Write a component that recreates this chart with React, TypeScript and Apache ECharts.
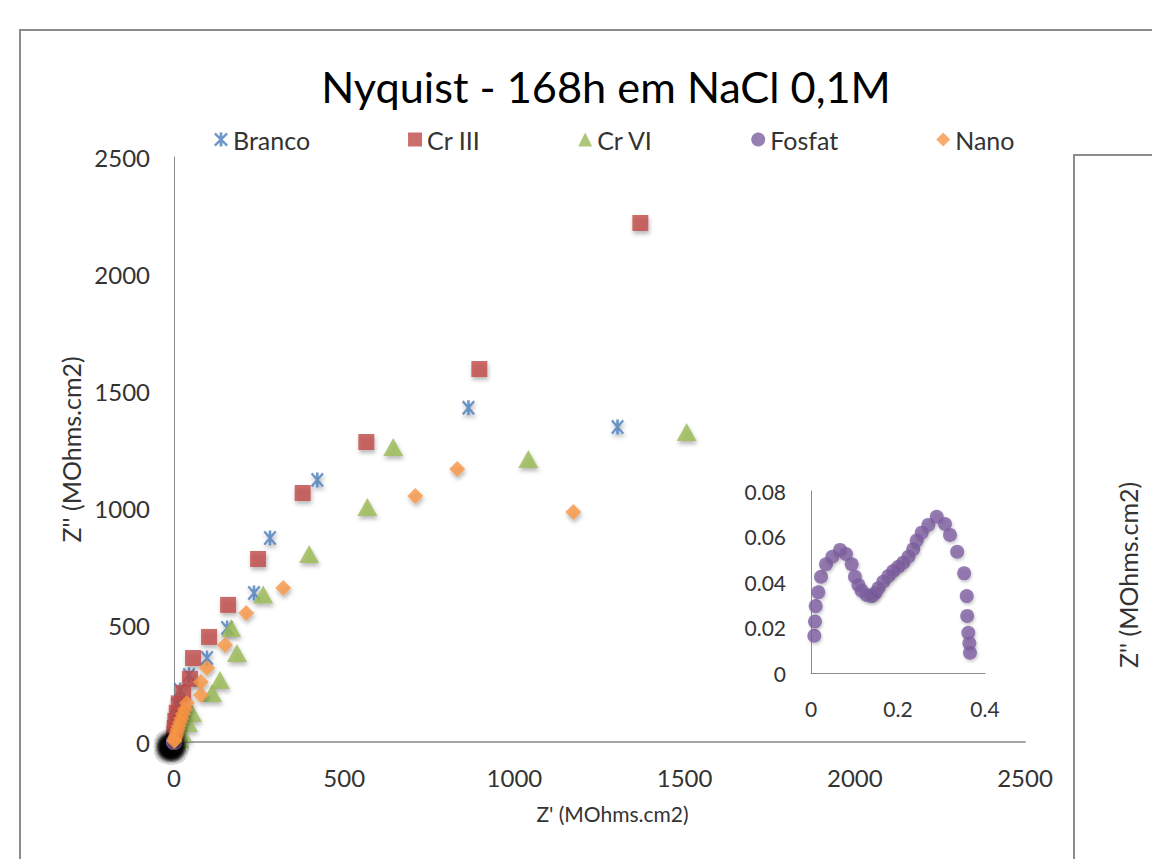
import React, { useEffect, useRef } from 'react';
import * as echarts from 'echarts';

const FONT = 'Lato, "Open Sans", sans-serif';

const seriesNames = ['Branco', 'Cr III', 'Cr VI', 'Fosfat', 'Nano'];
const seriesColors = ['#4a7ebb', '#be4b48', '#98b954', '#7d5fa0', '#f79646'];

// Main plot: Z' (x) vs Z'' (y), MOhms.cm2
const branco: [number, number][] = [
  [1303, 1346], [865, 1428], [421, 1120], [282, 872], [235, 637], [156, 487],
  [97, 359], [44, 286], [18, 222], [9, 158], [5, 103], [3, 60], [1, 26],
];
const crIII: [number, number][] = [
  [1370, 2218], [897, 1594], [565, 1282], [378, 1064], [247, 782], [159, 586],
  [103, 449], [56, 359], [47, 270], [27, 210], [14, 165], [8, 125], [4, 90],
  [2, 60], [1, 35], [0.5, 15],
];
const crVI: [number, number][] = [
  [1506, 1325], [1041, 1209], [644, 1261], [568, 1004], [397, 803], [262, 630],
  [168, 487], [185, 380], [135, 265], [112, 209], [53, 124], [41, 81], [24, 38],
  [15, 13],
];
const nano: [number, number][] = [
  [1173, 983], [832, 1167], [709, 1051], [321, 658], [212, 551], [150, 415],
  [97, 316], [79, 256], [79, 201], [38, 167], [32, 140], [26, 120], [22, 100],
  [18, 84], [14, 68], [11, 55], [8, 42], [6, 30], [4, 20], [2, 10], [1, 4],
];
// Fosfat (shown in the inset, also sits at the origin of the main plot)
const fosfat: [number, number][] = [
  [0.0076, 0.0164], [0.0092, 0.0226], [0.0108, 0.0294], [0.0168, 0.0355],
  [0.023, 0.0423], [0.0345, 0.0478], [0.049, 0.0511], [0.0667, 0.0541],
  [0.0805, 0.0523], [0.0936, 0.0478], [0.101, 0.0423], [0.109, 0.0387],
  [0.1166, 0.0362], [0.128, 0.0343], [0.1395, 0.0338], [0.147, 0.035],
  [0.155, 0.0372], [0.166, 0.0401], [0.178, 0.0426], [0.189, 0.0448],
  [0.2007, 0.0467], [0.212, 0.0485], [0.224, 0.0511], [0.235, 0.0544],
  [0.243, 0.0582], [0.2545, 0.0617], [0.2697, 0.0651], [0.289, 0.0687],
  [0.308, 0.0655], [0.3195, 0.0607], [0.336, 0.0533], [0.352, 0.0438],
  [0.358, 0.0338], [0.359, 0.0251], [0.3616, 0.0177], [0.364, 0.0131],
  [0.3655, 0.0089],
];

const mainAxis = { min: 0, max: 2500, interval: 500 };
const insetX = { min: 0, max: 0.4, interval: 0.2 };
const insetY = { min: 0, max: 0.08, interval: 0.02 };

const titleText = 'Nyquist - 168h em NaCl 0,1M';
const xName = "Z' (MOhms.cm2)";
const yName = "Z'' (MOhms.cm2)";

const ASTERISK =
  'path://M4 0L6 0L6 10L4 10Z M0 1.2L1.2 0L10 8.8L8.8 10Z M8.8 0L10 1.2L1.2 10L0 8.8Z';

const shadow = {
  shadowBlur: 4,
  shadowColor: 'rgba(0,0,0,0.35)',
  shadowOffsetX: 1,
  shadowOffsetY: 3,
};

const plain = (v: number) => String(v);

export default function App() {
  const ref = useRef<HTMLDivElement>(null);
  useEffect(() => {
    if (!ref.current) return;
    const chart = echarts.init(ref.current, undefined, { renderer: 'svg' });
    const labelStyle = { color: '#333', fontFamily: FONT, fontSize: 24, formatter: plain };
    const insetLabel = { color: '#333', fontFamily: FONT, fontSize: 21, formatter: plain };
    const option: any = {
      animation: false,
      backgroundColor: '#fff',
      graphic: [
        {
          type: 'rect',
          shape: { x: 20, y: 30, width: 1300, height: 1000 },
          style: { fill: 'none', stroke: '#8c8c8c', lineWidth: 2 },
          silent: true,
        },
        {
          type: 'rect',
          shape: { x: 1074, y: 155, width: 200, height: 800 },
          style: { fill: '#fff', stroke: '#8c8c8c', lineWidth: 2 },
          silent: true,
        },
        {
          type: 'text',
          x: 1128,
          y: 575,
          rotation: Math.PI / 2,
          style: {
            text: yName,
            fill: '#333',
            font: `25px ${FONT}`,
            textAlign: 'center',
            textVerticalAlign: 'middle',
          },
          silent: true,
        },
        {
          type: 'text',
          x: 606,
          y: 86,
          style: {
            text: titleText,
            fill: '#000',
            font: `43.3px ${FONT}`,
            textAlign: 'center',
            textVerticalAlign: 'middle',
          },
          silent: true,
        },
      ],
      legend: {
        data: seriesNames,
        left: 214,
        top: 127,
        padding: 0,
        itemGap: 98,
        itemWidth: 14,
        itemHeight: 14,
        textStyle: { color: '#333', fontFamily: FONT, fontSize: 25 },
        itemStyle: { shadowBlur: 0, shadowOffsetX: 0, shadowOffsetY: 0, shadowColor: 'transparent' },
      },
      grid: [
        { left: 174, top: 157, width: 851, height: 585 },
        { left: 811, top: 491, width: 174, height: 182 },
      ],
      xAxis: [
        {
          gridIndex: 0,
          type: 'value',
          ...mainAxis,
          name: xName,
          nameLocation: 'middle',
          nameGap: 61,
          nameTextStyle: { color: '#333', fontFamily: FONT, fontSize: 21, padding: [0, 0, 0, 26] },
          axisLine: { show: true, lineStyle: { color: '#a6a6a6', width: 2 } },
          axisTick: { show: false },
          splitLine: { show: false },
          axisLabel: { ...labelStyle, margin: 23 },
        },
        {
          gridIndex: 1,
          type: 'value',
          ...insetX,
          axisLine: { show: true, lineStyle: { color: '#8c8c8c', width: 1 } },
          axisTick: { show: false },
          splitLine: { show: false },
          axisLabel: { ...insetLabel, margin: 25 },
        },
      ],
      yAxis: [
        {
          gridIndex: 0,
          type: 'value',
          ...mainAxis,
          name: yName,
          nameLocation: 'middle',
          nameGap: 88,
          nameTextStyle: { color: '#333', fontFamily: FONT, fontSize: 25 },
          axisLine: { show: true, lineStyle: { color: '#8c8c8c', width: 1 } },
          axisTick: { show: false },
          splitLine: { show: false },
          axisLabel: { ...labelStyle, margin: 24 },
        },
        {
          gridIndex: 1,
          type: 'value',
          ...insetY,
          axisLine: { show: true, lineStyle: { color: '#8c8c8c', width: 1 } },
          axisTick: { show: false },
          splitLine: { show: false },
          axisLabel: { ...insetLabel, margin: 25 },
        },
      ],
      series: [
        {
          name: 'Branco',
          type: 'scatter',
          data: branco,
          symbol: ASTERISK,
          symbolSize: [13, 15],
          itemStyle: { color: seriesColors[0], ...shadow },
        },
        {
          name: 'Cr III',
          type: 'scatter',
          data: crIII,
          symbol: 'rect',
          symbolSize: 16,
          itemStyle: { color: seriesColors[1], ...shadow },
        },
        {
          name: 'Cr VI',
          type: 'scatter',
          data: crVI,
          symbol: 'triangle',
          symbolSize: [20, 18],
          itemStyle: { color: seriesColors[2], ...shadow },
        },
        {
          name: 'Fosfat',
          type: 'scatter',
          data: fosfat,
          symbol: 'circle',
          symbolSize: 16,
          itemStyle: {
            color: seriesColors[3],
            shadowBlur: 8,
            shadowColor: 'rgba(0,0,0,0.6)',
            shadowOffsetX: -3,
            shadowOffsetY: 5,
          },
        },
        {
          name: 'Fosfat',
          type: 'scatter',
          xAxisIndex: 1,
          yAxisIndex: 1,
          data: fosfat,
          symbol: 'circle',
          symbolSize: 14,
          itemStyle: {
            color: seriesColors[3],
            shadowBlur: 3,
            shadowColor: 'rgba(0,0,0,0.25)',
            shadowOffsetX: 1,
            shadowOffsetY: 2,
          },
        },
        {
          name: 'Nano',
          type: 'scatter',
          data: nano,
          symbol: 'diamond',
          symbolSize: 16,
          itemStyle: { color: seriesColors[4], ...shadow },
        },
      ],
    };
    chart.setOption(option);
    return () => chart.dispose();
  }, []);
  return (
    <div
      ref={ref}
      style={{ position: 'fixed', left: 0, top: 0, width: 1152, height: 859, background: '#fff' }}
    />
  );
}
